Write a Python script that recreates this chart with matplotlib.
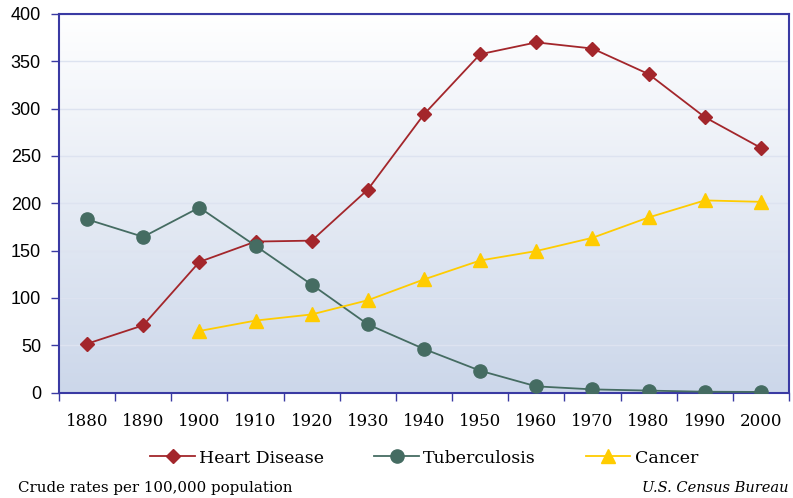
import numpy as np
import matplotlib
matplotlib.use("Agg")
from matplotlib import pyplot as plt

years = ["1880", "1890", "1900", "1910", "1920", "1930", "1940",
         "1950", "1960", "1970", "1980", "1990", "2000"]
heart = [51.5, 71, 138, 159.5, 160.5, 214.5, 294, 357.5, 370, 363.5, 336.5, 291, 258.5]
tb = [183, 164.5, 195.5, 155, 114, 72, 46, 23, 6.5, 3.3, 2, 0.8, 0.6]
cancer_years = years[2:]
cancer = [65, 76, 82.5, 97.5, 119.5, 139.5, 149.5, 163.5, 185, 203, 201.5]

spine_col = "#3a3aa3"
serif = "DejaVu Serif"

fig = plt.figure(figsize=(7.93, 4.98), dpi=100)
ax = fig.add_axes([59/793, 1-392.5/498, 730/793, 378.5/498])

# background gradient
grad = np.linspace(0, 1, 256).reshape(-1, 1)
top = np.array([1.0, 1.0, 1.0])
bot = np.array([204, 215, 234]) / 255
img = top + (bot - top) * grad[..., None]
ax.imshow(img, extent=[0, 1, 0, 1], transform=ax.transAxes, aspect="auto", zorder=0)

x = np.arange(len(years))
xc = np.arange(2, len(years))
ax.plot(x, heart, color="#a3262b", lw=1.3, marker="D", ms=7.5, label="Heart Disease", zorder=3)
ax.plot(x, tb, color="#456c62", lw=1.3, marker="o", ms=9.5, label="Tuberculosis", zorder=3)
ax.plot(xc, cancer, color="#ffcc00", lw=1.3, marker="^", ms=10, label="Cancer", zorder=3)

ax.set_xlim(-0.5, len(years) - 0.5)
ax.set_ylim(0, 400)
ax.set_yticks(range(0, 401, 50))
ax.yaxis.grid(True, color="#dde3f0", lw=1)
ax.set_axisbelow(True)

ax.set_xticks(x)
ax.set_xticklabels(years, family=serif, fontsize=12)
ax.set_xticks(np.arange(-0.5, len(years), 1), minor=True)
ax.tick_params(axis="x", which="major", length=0, pad=15)
ax.tick_params(axis="x", which="minor", length=6, color=spine_col, width=1)
ax.tick_params(axis="y", length=6, color=spine_col, width=1, labelsize=13, pad=7)
for lab in ax.get_yticklabels():
    lab.set_family("Liberation Sans")

for s in ax.spines.values():
    s.set_color(spine_col)
    s.set_linewidth(1.5)

fig.legend(loc="center", bbox_to_anchor=(0.535, 1-458/498), ncol=3, frameon=False,
           prop={"family": serif, "size": 12.5}, handlelength=2.55, columnspacing=2.9,
           handletextpad=0.25)

fig.text(18/793, 1-488/498, "Crude rates per 100,000 population", family=serif,
         fontsize=10.8, va="center", ha="left")
fig.text(789/793, 1-488/498, "U.S. Census Bureau", family=serif, style="italic",
         fontsize=10.5, va="center", ha="right")

fig.savefig("out.png", dpi=100)
